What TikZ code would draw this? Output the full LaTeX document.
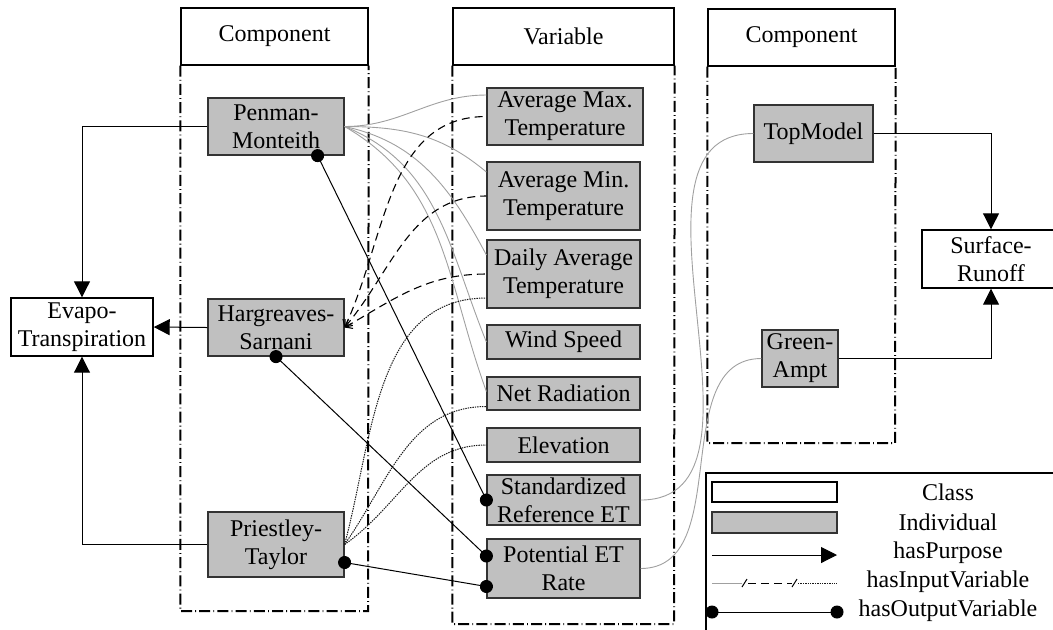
\documentclass[tikz,border=0pt]{standalone}
\usepackage{fontspec}
\setmainfont{Liberation Serif}
\usetikzlibrary{arrows.meta}

\definecolor{indgray}{RGB}{192,192,192}
\definecolor{ingray}{RGB}{160,160,160}

\tikzset{
  cls/.style={draw, fill=white, line width=0.7pt, align=center, inner sep=0pt},
  ind/.style={draw=black!80, fill=indgray, line width=0.6pt, align=center, inner sep=0pt},
  lane/.style={line width=1pt, dash pattern=on 5.5pt off 1.6pt on 0.4pt off 1.6pt},
  purpose/.style={-{Triangle[length=8pt,width=8pt]}, line width=0.5pt},
  inpm/.style={draw=ingray, line width=0.45pt},
  inhs/.style={{Straight Barb[length=3pt,width=5pt]}-, dash pattern=on 4pt off 2.5pt, line width=0.55pt},
  inpt/.style={dash pattern=on 0.7pt off 0.5pt, line width=0.5pt, draw=black!90},
  outvar/.style={{Circle[length=6.5pt]}-{Circle[length=6.5pt]}, line width=0.5pt,
    shorten <=-3.25pt, shorten >=-3.25pt}
}

\begin{document}
\begin{tikzpicture}[x=0.5pt, y=-0.5pt, font=\fontsize{12}{14}\selectfont]

  \useasboundingbox (0,0) rectangle (1053,629);

  %% headers and lanes
  \node[cls, minimum width=93.5pt, minimum height=28.5pt] (hdrL) at (274.5,36.5) {Component};
  \node[cls, minimum width=110.5pt, minimum height=28.5pt] (hdrM) at (563.5,36.5) {Variable};
  \node[cls, minimum width=93.5pt, minimum height=28.5pt] (hdrR) at (801.5,37.5) {Component};

  \draw[lane] (hdrL.south west) |- (368,611) -- (hdrL.south east);
  \draw[lane] (hdrM.south west) |- (674,624) -- (hdrM.south east);
  \draw[lane] (hdrR.south west) |- (895,443) -- (hdrR.south east);

  %% components (left)
  \node[ind, minimum width=68pt, minimum height=28.5pt] (penman) at (276,126.5) {Penman-\\Monteith};
  \node[ind, minimum width=68pt, minimum height=28.5pt] (hargr) at (276,327.5) {Hargreaves-\\Sarnani};
  \node[ind, minimum width=68pt, minimum height=32.5pt] (priest) at (276,544.5) {Priestley-\\Taylor};
  \node[cls, minimum width=71pt, minimum height=29pt] (evapo) at (82,327) {Evapo-\\Transpiration};

  %% variables
  \node[ind, minimum width=78pt, minimum height=28.5pt] (amax) at (565,116.5) {Average Max.\\Temperature};
  \node[ind, minimum width=76.5pt, minimum height=34pt] (amin) at (563.5,196) {Average Min.\\Temperature};
  \node[ind, minimum width=76.5pt, minimum height=34pt] (davg) at (563.5,274) {Daily Average\\Temperature};
  \node[ind, minimum width=76.5pt, minimum height=17pt] (wind) at (563.5,342) {Wind Speed};
  \node[ind, minimum width=76.5pt, minimum height=16.5pt] (netr) at (563.5,393.5) {Net Radiation};
  \node[ind, minimum width=76.5pt, minimum height=17pt] (elev) at (563.5,445) {Elevation};
  \node[ind, minimum width=76.5pt, minimum height=25pt] (sref) at (563.5,500) {Standardized\\Reference ET};
  \node[ind, minimum width=76.5pt, minimum height=29.5pt] (pet) at (563.5,568.5) {Potential ET\\Rate};

  %% components (right)
  \node[ind, minimum width=59.5pt, minimum height=28.5pt] (topm) at (813.5,133.5) {TopModel};
  \node[ind, minimum width=38pt, minimum height=28.5pt] (green) at (800,358.5) {Green-\\Ampt};
  \node[cls, minimum width=69pt, minimum height=29pt] (runoff) at (991,259) {Surface-\\Runoff};

  %% hasPurpose
  \draw[purpose] (penman.west) -| (evapo.north);
  \draw[purpose] (hargr.west) -- (evapo.east);
  \draw[purpose] (priest.west) -| (evapo.south);
  \draw[purpose] (topm.east) -| (runoff.north);
  \draw[purpose] (green.east) -| (runoff.south);

  %% hasInputVariable
  \draw[inpm] (penman.east) to[out=0,in=180] ([yshift=10.75pt]amax.west);
  \draw[inpm] (penman.east) to[out=0,in=140] ([yshift=12pt]amin.west);
  \draw[inpm] (penman.east) to[out=-12,in=118] ([yshift=9.5pt]davg.west);
  \draw[inpm] (penman.east) to[out=-22,in=112] (wind.west);
  \draw[inpm] (penman.east) to[out=-30,in=110] ([yshift=1pt]netr.west);

  \draw[inhs] (hargr.east) to[out=65,in=180] (amax.west);
  \draw[inhs] (hargr.east) to[out=50,in=180] (amin.west);
  \draw[inhs] (hargr.east) to[out=30,in=180] (davg.west);

  \draw[inpt] (priest.east) to[out=75,in=180] ([yshift=-12pt]davg.west);
  \draw[inpt] (priest.east) to[out=55,in=180] ([yshift=-6.5pt]netr.west);
  \draw[inpt] (priest.east) to[out=35,in=180] (elev.west);

  \draw[inpm] (sref.east) to[out=0,in=180] (topm.west);
  \draw[inpm] (pet.east) to[out=0,in=180] (green.west);

  %% hasOutputVariable
  \draw[outvar] ([xshift=-13.5pt]penman.south east) -- (sref.west);
  \draw[outvar] (hargr.south) -- ([yshift=6.25pt]pet.west);
  \draw[outvar] ([yshift=-9pt]priest.east) -- ([yshift=-9pt]pet.west);

  %% legend
  \draw[line width=0.6pt] (706,640) -- (706,473) -- (1070,473);
  \node[cls, minimum width=62.5pt, minimum height=10pt] (lgcls) at (774.5,492) {};
  \node[ind, minimum width=62.5pt, minimum height=10.5pt] (lgind) at (774.5,522.5) {};
  \coordinate (lgpa) at (712,555);
  \coordinate (lgpb) at (837,555);
  \draw[purpose] (lgpa) -- (lgpb);
  \coordinate (lgia) at (712,583);
  \coordinate (lgib) at (742,583);
  \coordinate (lgic) at (792,583);
  \coordinate (lgid) at (837,583);
  \draw[inpm] (lgia) -- (lgib);
  \draw[line width=0.5pt] ([shift={(0,4)}]lgib) -- ([shift={(5,-4)}]lgib);
  \draw[dash pattern=on 4pt off 2.5pt, line width=0.5pt] ([xshift=3pt]lgib) -- (lgic);
  \draw[line width=0.5pt] ([shift={(0,4)}]lgic) -- ([shift={(5,-4)}]lgic);
  \draw[inpt] ([xshift=3pt]lgic) -- (lgid);
  \coordinate (lgoa) at (712,612);
  \coordinate (lgob) at (837,612);
  \draw[outvar] (lgoa) -- (lgob);

  \node (lgtcls) at (948,492) {Class};
  \node (lgtind) at (948,522) {Individual};
  \node (lgtpur) at (948,553) {hasPurpose};
  \node (lgtin) at (948,582) {hasInputVariable};
  \node (lgtout) at (948,611) {hasOutputVariable};

\end{tikzpicture}
\end{document}
